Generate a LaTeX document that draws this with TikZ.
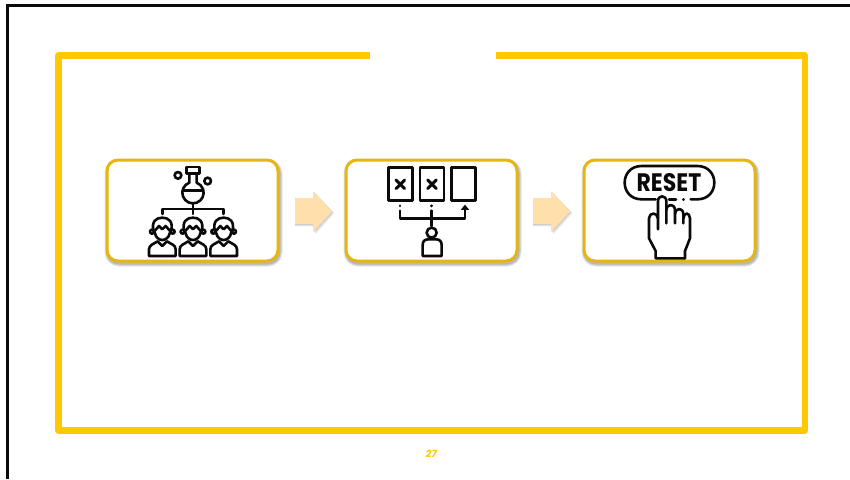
\documentclass[tikz,border=0pt]{standalone}
\usepackage{fontspec}
\setmainfont{Poppins}
\definecolor{frameyellow}{HTML}{FFC800}
\definecolor{cardgold}{HTML}{E6B60E}
\definecolor{softarrow}{HTML}{FFE0AA}
\definecolor{ink}{HTML}{0A0A0A}
\tikzset{
  frameline/.style={draw=frameyellow,line width=6.4pt,line join=round},
  cardbox/.style={draw=cardgold,line width=3pt,fill=white,rounded corners=11pt},
  softshade/.style={draw=black,line width=#1,draw opacity=0.1,line join=round,rounded corners=11pt},
  softfill/.style={fill=softarrow},
  iconline/.style={draw=ink,line width=2.6pt,line cap=round,line join=round},
  zoomone/.style={shift={(100pt,-150pt)},x=0.3333pt,y=-0.3333pt},
  zoomtwo/.style={shift={(285pt,-150pt)},x=0.3333pt,y=-0.3333pt},
  zoomthree/.style={shift={(525pt,-150pt)},x=0.3333pt,y=-0.3333pt},
}
\newcommand{\labperson}[1]{%
  \begin{scope}[shift={(#1,0)}]
    \draw[iconline] (-31,245) circle[radius=6];
    \draw[iconline] (31,245) circle[radius=6];
    \draw[iconline,fill=white] (-26,244) -- (-22,250) .. controls (-20,262) and (-10,270) .. (0,270)
       .. controls (10,270) and (20,262) .. (22,250) -- (26,244)
       .. controls (34,214) and (18,203) .. (0,203) .. controls (-18,203) and (-34,214) .. (-26,244) -- cycle;
    \draw[iconline] (-24,244) -- (-10,228) -- (0,238) -- (10,228) -- (24,244);
    \draw[iconline] (-40,318) -- (-40,298) .. controls (-40,285) and (-26,282) .. (-14,274)
       -- (0,288) -- (14,274) .. controls (26,282) and (40,285) .. (40,298) -- (40,318) -- cycle;
  \end{scope}}
\begin{document}
\begin{tikzpicture}[x=1pt,y=-1pt]
\useasboundingbox (0,0) rectangle (850,479);
\fill[white] (0,0) rectangle (850,479);
% black slide edge
\draw[ink,line width=2.6pt] (7.5,479) -- (7.5,5.7) -- (850,5.7);
% yellow frame with gap
\draw[frameline] (370,55.5) -- (58.3,55.5) -- (58.3,430.5) -- (805,430.5) -- (805,55.5) -- (496,55.5);
% shadows and cards
\foreach \xa/\xb in {107/278,346/517,584/755}{
  \foreach \w in {7pt,5pt,3pt}{
    \draw[softshade=\w] (\xa+1,162.5) rectangle (\xb+1,263);
  }
}
\node[cardbox,minimum width=171pt,minimum height=101pt,inner sep=0pt] (cardA) at (192.5,210.5) {};
\node[cardbox,minimum width=171pt,minimum height=101pt,inner sep=0pt] (cardB) at (431.5,210.5) {};
\node[cardbox,minimum width=171pt,minimum height=101pt,inner sep=0pt] (cardC) at (669.5,210.5) {};
% block arrows
\foreach \ox in {295,533}{
  \begin{scope}[shift={(\ox,0)}]
    \foreach \d in {2.4,1.6,0.8}{
      \fill[black,opacity=0.07] (0,198+\d) -- (18+\d,198+\d) -- (18+\d,191+\d) -- (37+\d,211+\d) -- (18+\d,232+\d) -- (18+\d,224+\d) -- (0,224+\d) -- cycle;
    }
    \fill[softfill] (0,198) -- (18,198) -- (18,191) -- (37,211.5) -- (18,232) -- (18,224) -- (0,224) -- cycle;
  \end{scope}
}
% icon one: flask and team
\begin{scope}[zoomone]
  \draw[iconline] (259,51) rectangle (299,71);
  \draw[iconline] (268,71) -- (268,98) arc[start angle=250,end angle=-70,radius=32] -- (290,71);
  \draw[iconline] (248,122) -- (310,122);
  \draw[iconline] (234,76) circle[radius=10];
  \draw[iconline] (323,93) circle[radius=10];
  \draw[iconline] (279,160) -- (279,192);
  \draw[iconline] (187,192) -- (187,177) -- (371,177) -- (371,192);
  \labperson{187}
  \labperson{279}
  \labperson{371}
\end{scope}
% icon two: choice among documents
\begin{scope}[zoomtwo]
  \foreach \xx in {310,405,500}{
    \draw[iconline,line cap=butt] (\xx,52) rectangle (\xx+72,152);
  }
  \foreach \xx in {346,441}{
    \draw[iconline,line width=3pt] (\xx-13,90) -- (\xx+13,116);
    \draw[iconline,line width=3pt] (\xx+13,90) -- (\xx-13,116);
    \draw[iconline] (\xx-1,167) -- (\xx-1,168);
  }
  \draw[iconline] (345,182) -- (345,205) -- (540,205) -- (540,172);
  \draw[iconline] (440,182) -- (440,228);
  \fill[ink] (527,180) -- (540,164) -- (553,180) -- cycle;
  \draw[iconline] (440,248) circle[radius=15];
  \draw[iconline] (413,318) -- (413,285) .. controls (413,273) and (420,268) .. (430,268) -- (453,268)
     .. controls (463,268) and (470,273) .. (470,285) -- (470,318) -- cycle;
\end{scope}
% icon three: reset button
\begin{scope}[zoomthree]
  \draw[iconline] (392,148) -- (350,148) .. controls (282,148) and (282,48) .. (350,48)
     -- (517,48) .. controls (585,48) and (585,148) .. (517,148) -- (497,148);
  \draw[iconline] (432,148) -- (453,148);
  \draw[iconline] (475,148) -- (476,148);
  \node[inner sep=0pt,text=ink] (resetword) at (432,97) {\scalebox{1}[1.15]{\fontsize{22}{22}\selectfont\bfseries RESET}};
  \draw[iconline] (399,238) -- (399,154) .. controls (399,134) and (424,134) .. (424,154) -- (424,220);
  \draw[iconline] (424,180) .. controls (426,160) and (449,160) .. (450,180) -- (450,220);
  \draw[iconline] (450,192) .. controls (452,172) and (474,172) .. (475,192) -- (475,220);
  \draw[iconline] (475,205) .. controls (477,186) and (494,186) .. (495,205) -- (495,265) -- (480,303) -- (480,325);
  \draw[iconline] (399,205) .. controls (397,186) and (373,186) .. (372,205) -- (372,265) -- (392,303) -- (392,325) -- (480,325);
\end{scope}
% page number
\node[inner sep=0pt,text=frameyellow] (pagenum) at (431.5,454.3) {\fontsize{10}{10}\selectfont\bfseries\itshape 27};
\end{tikzpicture}
\end{document}
